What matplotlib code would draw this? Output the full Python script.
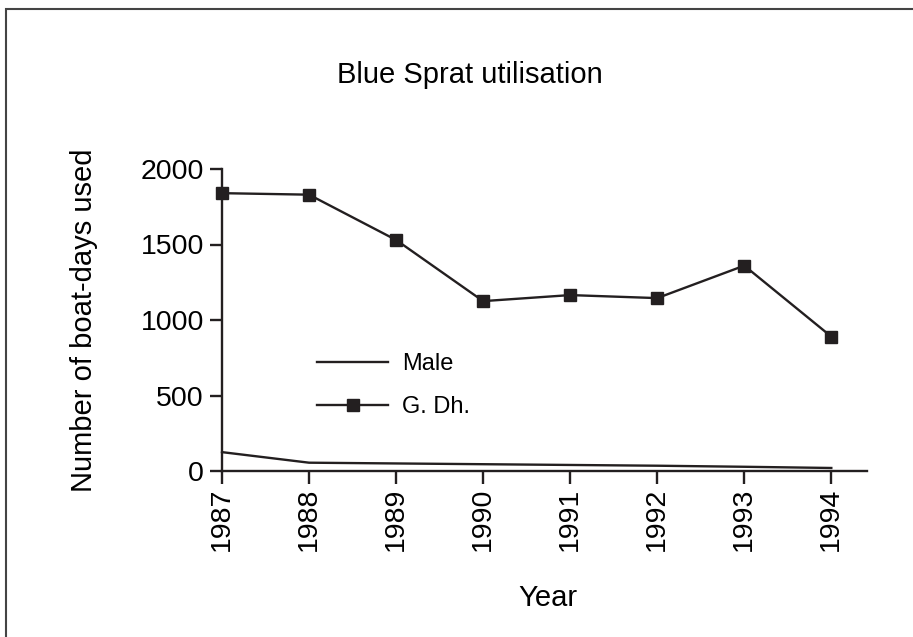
import matplotlib
matplotlib.use("Agg")
import matplotlib.pyplot as plt
from matplotlib.patches import Rectangle

plt.rcParams['font.family'] = ['Liberation Sans', 'DejaVu Sans']

years = [1987, 1988, 1989, 1990, 1991, 1992, 1993, 1994]
male = [125, 55, 50, 45, 40, 35, 28, 20]
gdh = [1840, 1830, 1530, 1125, 1165, 1145, 1360, 890]
yticks = [0, 500, 1000, 1500, 2000]

fig = plt.figure(figsize=(9.13, 6.37), dpi=100)
ax = fig.add_axes([222 / 913, 1 - 471 / 637, (867 - 222) / 913, (471 - 169) / 637])

ax.plot(years, male, color='#231f20', lw=1.7, label='Male', clip_on=False)
ax.plot(years, gdh, color='#231f20', lw=1.7, marker='s', markersize=9.2,
        label='G. Dh.', clip_on=False)

ax.set_xlim(1987, 1994.41)
ax.set_ylim(0, 2000)
ax.set_xticks(years)
ax.set_xticklabels([str(y) for y in years], rotation=90, fontsize=20.5)
ax.set_yticks(yticks)
ax.set_yticklabels([str(v) for v in yticks], fontsize=20.5)
ax.tick_params(axis='both', length=9, width=1.7, color='#231f20', pad=3)
ax.tick_params(axis='y', pad=4)

for s in ['top', 'right']:
    ax.spines[s].set_visible(False)
for s in ['left', 'bottom']:
    ax.spines[s].set_linewidth(1.7)
    ax.spines[s].set_color('#231f20')

ax.set_xlabel('Year', fontsize=21)
ax.xaxis.set_label_coords(0.505, -0.375)
ax.set_ylabel('Number of boat-days used', fontsize=21)
ax.yaxis.set_label_coords(-0.192, 0.5)

fig.text(470 / 913, 1 - 75 / 637, 'Blue Sprat utilisation', ha='center', va='center', fontsize=21)

ax.legend(loc='upper left', bbox_to_anchor=(0.115, 0.46), frameon=False, fontsize=17,
          handlelength=3.0, labelspacing=0.88, handletextpad=0.6)

fig.patches.append(Rectangle((6 / 913, -0.1), 1.2, 1 - 9 / 637 + 0.1,
                             transform=fig.transFigure, fill=False,
                             edgecolor='#444444', lw=1.5))

fig.savefig('out.png', dpi=100)
